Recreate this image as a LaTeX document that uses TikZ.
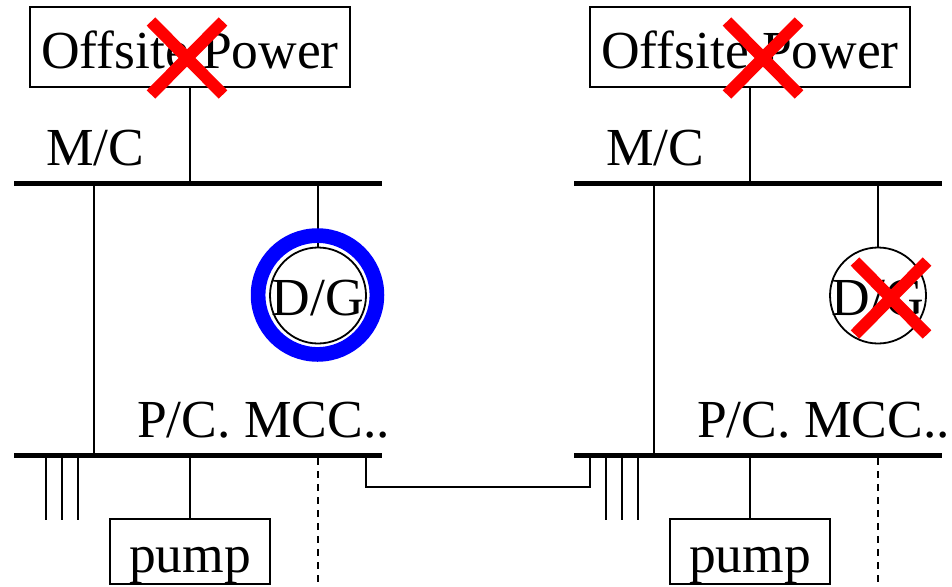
\documentclass[tikz,border=0pt]{standalone}
\usepackage{fontspec}
\setmainfont{Liberation Serif}

\tikzset{
    bigtext/.style={font=\fontsize{53.5}{60}\selectfont, inner sep=0pt},
    devbox/.style={bigtext, draw, line width=2pt, text height=50pt, text depth=8pt, align=center},
    busbar/.style={fill=black, inner sep=0pt, outer sep=0pt, minimum width=368pt, minimum height=5.6pt},
    dgset/.style={bigtext, circle, draw, line width=1.8pt, minimum size=96pt, text height=40pt, text depth=0pt},
    dgring/.style={circle, draw=blue, line width=14.7pt, minimum size=118.8pt, inner sep=0pt, outer sep=0pt},
    tripped/.style={inner sep=0pt, outer sep=0pt, minimum width=72pt, minimum height=73pt},
    tripline/.style={draw=red, line width=12pt},
    wire/.style={line width=2pt}
}

\begin{document}
\begin{tikzpicture}[x=1pt, y=-1pt]
    \useasboundingbox (0,0) rectangle (952,586);

    % Left unit
    \node[devbox, minimum width=320pt, minimum height=80pt] (offsiteL) at (190,47) {Offsite Power};
    \node[busbar] (mcL) at (198,183.4) {};
    \node[busbar] (pcL) at (198,455.5) {};
    \node[bigtext, anchor=base west] (mclabelL) at (46,165) {M/C};
    \node[bigtext, anchor=base west] (pclabelL) at (137,437) {P/C. MCC..};
    \node[dgset] (dgL) at (318,295.5) {\makebox[0pt]{D/G}};
    \node[devbox, minimum width=160pt, minimum height=65pt] (pumpL) at (190,551.5) {pump};
    \coordinate (dashL) at (318,586);
    \coordinate (stubaL) at (46,520);
    \coordinate (stubbL) at (62,520);
    \coordinate (stubcL) at (78,520);

    % Right unit
    \node[devbox, minimum width=320pt, minimum height=80pt] (offsiteR) at (750,47) {Offsite Power};
    \node[busbar] (mcR) at (758,183.4) {};
    \node[busbar] (pcR) at (758,455.5) {};
    \node[bigtext, anchor=base west] (mclabelR) at (606,165) {M/C};
    \node[bigtext, anchor=base west] (pclabelR) at (697,437) {P/C. MCC..};
    \node[dgset] (dgR) at (878,295.5) {\makebox[0pt]{D/G}};
    \node[devbox, minimum width=160pt, minimum height=65pt] (pumpR) at (750,551.5) {pump};
    \coordinate (dashR) at (878,586);
    \coordinate (stubaR) at (606,520);
    \coordinate (stubbR) at (622,520);
    \coordinate (stubcR) at (638,520);

    % Edges
    \draw[wire] (offsiteL.south) -- (offsiteL.south |- mcL.north);
    \draw[wire] (mcL.south -| 94,0) -- (pcL.north -| 94,0);
    \draw[wire] (mcL.south -| dgL.north) -- (dgL.north);
    \draw[wire] (pcL.south -| pumpL.north) -- (pumpL.north);
    \draw[wire, dashed, dash pattern=on 7pt off 6pt] (pcL.south -| dashL) -- (dashL);
    \draw[wire] (pcL.south -| stubaL) -- (stubaL);
    \draw[wire] (pcL.south -| stubbL) -- (stubbL);
    \draw[wire] (pcL.south -| stubcL) -- (stubcL);

    \draw[wire] (offsiteR.south) -- (offsiteR.south |- mcR.north);
    \draw[wire] (mcR.south -| 654,0) -- (pcR.north -| 654,0);
    \draw[wire] (mcR.south -| dgR.north) -- (dgR.north);
    \draw[wire] (pcR.south -| pumpR.north) -- (pumpR.north);
    \draw[wire, dashed, dash pattern=on 7pt off 6pt] (pcR.south -| dashR) -- (dashR);
    \draw[wire] (pcR.south -| stubaR) -- (stubaR);
    \draw[wire] (pcR.south -| stubbR) -- (stubbR);
    \draw[wire] (pcR.south -| stubcR) -- (stubcR);

    % Tie line
    \draw[wire] (pcL.south -| 366,0) -- (366,487) -- (590,487) -- (pcR.south -| 590,0);

    % Blue ring
    \node[dgring] (ringL) at (317.5,295) {};

    % Crosses
    \node[tripped] (tripL) at (187,58) {};
    \node[tripped] (tripR) at (763,58) {};
    \node[tripped] (tripdg) at (891,298) {};
    \draw[tripline] (tripL.north west) -- (tripL.south east);
    \draw[tripline] (tripL.north east) -- (tripL.south west);
    \draw[tripline] (tripR.north west) -- (tripR.south east);
    \draw[tripline] (tripR.north east) -- (tripR.south west);
    \draw[tripline] (tripdg.north west) -- (tripdg.south east);
    \draw[tripline] (tripdg.north east) -- (tripdg.south west);

\end{tikzpicture}
\end{document}
